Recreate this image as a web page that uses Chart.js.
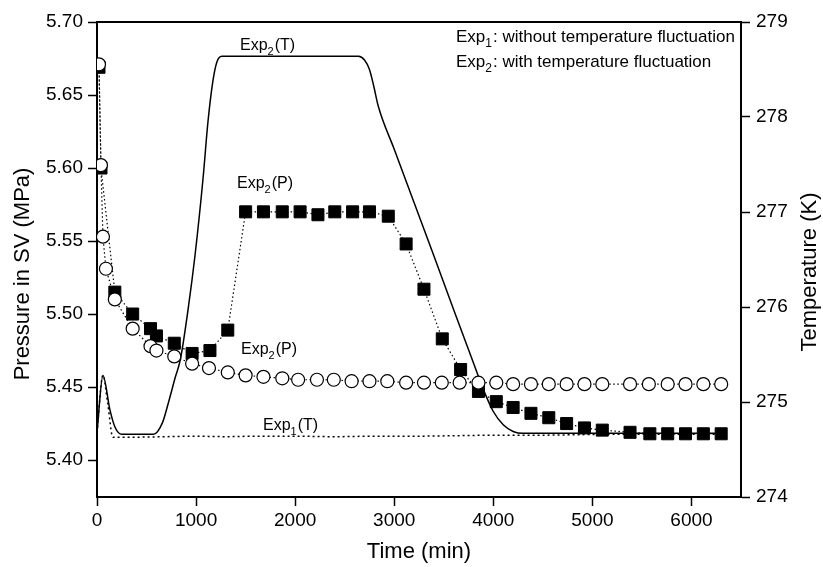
<!DOCTYPE html>
<html>
<head>
<meta charset="utf-8">
<script src="https://cdn.jsdelivr.net/npm/chart.js@4.4.0/dist/chart.umd.min.js"></script>
<style>
  html, body { margin: 0; padding: 0; background: #fff; }
  #wrap { width: 823px; height: 567px; position: relative; }
</style>
</head>
<body>
<div id="wrap"><canvas id="chart"></canvas></div>
<script>
// Exp1 pressure (open circles)
const exp1Time = [20, 40, 60, 90, 180, 360, 540, 600, 780, 960, 1130, 1320, 1500, 1680, 1870, 2030, 2220, 2390, 2570, 2750, 2930, 3120, 3300, 3480, 3660, 3850, 4030, 4200, 4380, 4560, 4740, 4920, 5100, 5380, 5570, 5760, 5940, 6120, 6300];
const exp1P = [5.671, 5.602, 5.553, 5.531, 5.510, 5.490, 5.478, 5.475, 5.471, 5.466, 5.463, 5.460, 5.458, 5.457, 5.456, 5.455, 5.455, 5.455, 5.454, 5.454, 5.454, 5.453, 5.453, 5.453, 5.453, 5.453, 5.453, 5.452, 5.452, 5.452, 5.452, 5.452, 5.452, 5.452, 5.452, 5.452, 5.452, 5.452, 5.452];

// Exp2 pressure (filled squares)
const exp2Time = [20, 40, 180, 360, 540, 600, 780, 960, 1140, 1320, 1500, 1680, 1870, 2050, 2230, 2400, 2580, 2750, 2940, 3120, 3300, 3485, 3670, 3850, 4030, 4200, 4380, 4560, 4740, 4920, 5100, 5380, 5580, 5760, 5940, 6120, 6300];
const exp2P = [5.669, 5.600, 5.515, 5.500, 5.490, 5.485, 5.480, 5.473, 5.475, 5.489, 5.570, 5.570, 5.570, 5.570, 5.568, 5.570, 5.570, 5.570, 5.567, 5.548, 5.517, 5.483, 5.462, 5.447, 5.440, 5.436, 5.432, 5.429, 5.425, 5.422, 5.4205, 5.419, 5.418, 5.418, 5.418, 5.418, 5.418];

// Exp2 temperature (solid line)
const exp2TTime = [0, 60, 130, 180, 250, 570, 660, 720, 790, 840, 920, 990, 1070, 1120, 1170, 1210, 1260, 2640, 2700, 2750, 2790, 2840, 3000, 3200, 3400, 3600, 3800, 3900, 4000, 4100, 4200, 4300, 6300];
const exp2T = [274.68, 275.28, 274.92, 274.74, 274.66, 274.66, 274.78, 274.99, 275.26, 275.44, 275.98, 276.55, 277.35, 277.95, 278.38, 278.58, 278.64, 278.64, 278.60, 278.50, 278.34, 278.11, 277.66, 277.10, 276.54, 275.97, 275.41, 275.13, 274.90, 274.76, 274.69, 274.67, 274.67];

// Exp1 temperature (dotted line)
const exp1TTime = [0, 60, 110, 160, 400, 700, 1000, 1300, 1600, 2000, 2400, 2800, 3200, 3600, 4000, 4400, 4800, 5200, 5600, 6000, 6300];
const exp1T = [274.68, 275.28, 274.97, 274.63, 274.63, 274.635, 274.64, 274.635, 274.64, 274.64, 274.635, 274.64, 274.64, 274.645, 274.65, 274.65, 274.655, 274.66, 274.66, 274.66, 274.66];

const timeTicks = [0, 1000, 2000, 3000, 4000, 5000, 6000];
const pressureTicks = [5.40, 5.45, 5.50, 5.55, 5.60, 5.65, 5.70];
const tempTicks = [274, 275, 276, 277, 278, 279];

const pts = (xs, ys) => xs.map((x, i) => ({ x, y: ys[i] }));

const FONT = "'Liberation Sans', Arial, sans-serif";
Chart.defaults.font.family = FONT;
Chart.defaults.color = '#000';

// text with one subscript piece: [text, isSub]
function drawParts(ctx, x, y, parts, size) {
  let cx = x;
  parts.forEach(([txt, sub]) => {
    ctx.font = (sub ? Math.round(size * 0.68) : size) + 'px ' + FONT;
    ctx.fillText(txt, cx, sub ? y + size * 0.3 : y);
    cx += ctx.measureText(txt).width + (sub ? 1 : 0);
  });
}

const decor = {
  id: 'decor',
  afterDraw(chart) {
    const { ctx, chartArea: a } = chart;
    ctx.save();
    // top frame line
    ctx.strokeStyle = '#000';
    ctx.lineWidth = 2;
    ctx.beginPath();
    ctx.moveTo(a.left - 1, a.top);
    ctx.lineTo(a.right + 1, a.top);
    ctx.stroke();

    ctx.fillStyle = '#000';
    ctx.textBaseline = 'alphabetic';
    ctx.textAlign = 'left';
    drawParts(ctx, 240, 50, [['Exp', false], ['2', true], ['(T)', false]], 16);
    drawParts(ctx, 237, 188, [['Exp', false], ['2', true], ['(P)', false]], 16);
    drawParts(ctx, 241, 354, [['Exp', false], ['2', true], ['(P)', false]], 16);
    drawParts(ctx, 263, 430, [['Exp', false], ['1', true], ['(T)', false]], 16);
    drawParts(ctx, 456, 42, [['Exp', false], ['1', true], [': without temperature fluctuation', false]], 17);
    drawParts(ctx, 456, 67, [['Exp', false], ['2', true], [': with temperature fluctuation', false]], 17);

    // y axis titles, both reading bottom to top
    ctx.font = '22px ' + FONT;
    ctx.textAlign = 'center';
    ctx.textBaseline = 'middle';
    [[23, 274, 'Pressure in SV (MPa)'], [810, 272, 'Temperature (K)']].forEach(([x, y, t]) => {
      ctx.save();
      ctx.translate(x, y);
      ctx.rotate(-Math.PI / 2);
      ctx.fillText(t, 0, 0);
      ctx.restore();
    });
    ctx.restore();
  }
};

const axisGrid = { drawOnChartArea: false, tickLength: 9, tickWidth: 1.5, tickColor: '#000' };
const axisBorder = { display: true, width: 2, color: '#000' };

new Chart(document.getElementById('chart'), {
  type: 'line',
  data: {
    datasets: [
      {
        label: 'Exp1(P)',
        data: pts(exp1Time, exp1P),
        yAxisID: 'y',
        borderColor: '#000',
        borderWidth: 1.2,
        borderDash: [1.5, 2.5],
        pointStyle: 'circle',
        pointRadius: 6.5,
        pointBackgroundColor: '#fff',
        pointBorderColor: '#000',
        pointBorderWidth: 1.2,
        tension: 0
      },
      {
        label: 'Exp2(P)',
        data: pts(exp2Time, exp2P),
        yAxisID: 'y',
        borderColor: '#000',
        borderWidth: 1.2,
        borderDash: [1.5, 2.5],
        pointStyle: 'rect',
        pointRadius: 8.5,
        pointBackgroundColor: '#000',
        pointBorderColor: '#000',
        pointBorderWidth: 1,
        tension: 0
      },
      {
        label: 'Exp2(T)',
        data: pts(exp2TTime, exp2T),
        yAxisID: 'y2',
        borderColor: '#000',
        borderWidth: 1.5,
        pointRadius: 0,
        cubicInterpolationMode: 'monotone'
      },
      {
        label: 'Exp1(T)',
        data: pts(exp1TTime, exp1T),
        yAxisID: 'y2',
        borderColor: '#000',
        borderWidth: 1.5,
        borderDash: [2, 3],
        pointRadius: 0,
        cubicInterpolationMode: 'monotone'
      }
    ]
  },
  options: {
    responsive: true,
    maintainAspectRatio: false,
    animation: false,
    layout: { padding: { top: 22, left: 0, right: 0, bottom: 0 } },
    plugins: {
      legend: { display: false },
      tooltip: { enabled: false }
    },
    scales: {
      x: {
        type: 'linear',
        min: 0,
        max: 6500,
        afterBuildTicks: s => { s.ticks = timeTicks.map(v => ({ value: v })); },
        afterFit: s => { s.height = 70; },
        ticks: { font: { size: 19 }, padding: 3, maxRotation: 0, callback: v => String(v) },
        grid: axisGrid,
        border: axisBorder,
        title: { display: true, text: 'Time (min)', font: { size: 22 }, padding: { top: 0, bottom: 2 } }
      },
      y: {
        position: 'left',
        min: 5.3747,
        max: 5.70,
        afterBuildTicks: s => { s.ticks = pressureTicks.map(v => ({ value: v })); },
        afterFit: s => { s.width = 97; },
        ticks: { font: { size: 19 }, padding: 5, callback: v => v.toFixed(2) },
        grid: axisGrid,
        border: axisBorder
      },
      y2: {
        position: 'right',
        min: 274,
        max: 279,
        afterBuildTicks: s => { s.ticks = tempTicks.map(v => ({ value: v })); },
        afterFit: s => { s.width = 82; },
        ticks: { font: { size: 19 }, padding: 6, callback: v => String(v) },
        grid: axisGrid,
        border: axisBorder
      }
    }
  },
  plugins: [decor]
});
</script>
</body>
</html>
